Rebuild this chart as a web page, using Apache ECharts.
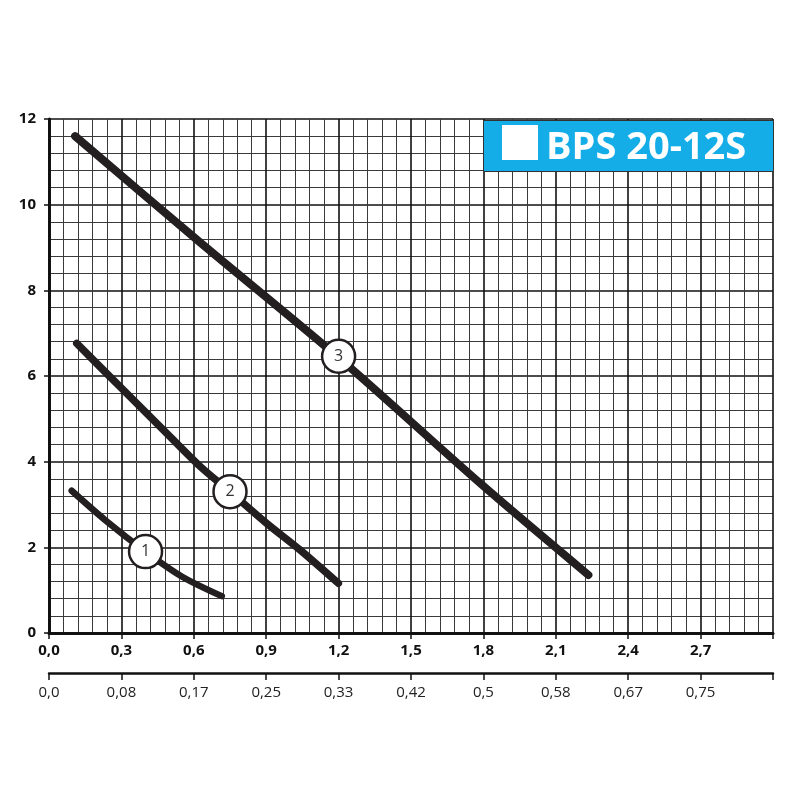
<!DOCTYPE html>
<html>
<head>
<meta charset="utf-8">
<script src="https://cdn.jsdelivr.net/npm/echarts@6/dist/echarts.min.js"></script>
<style>
html,body{margin:0;padding:0;background:#fff;}
#chart{width:800px;height:800px;}
</style>
</head>
<body>
<div id="chart"></div>
<script>
// Curve data (flow m³/h, head m)
const curve1X = [0.094, 0.232, 0.40, 0.55, 0.716];
const curve1Y = [3.32, 2.64, 1.90, 1.32, 0.86];
const curve2X = [0.115, 0.294, 0.46, 0.626, 0.75, 0.902, 1.04, 1.199];
const curve2Y = [6.76, 5.75, 4.82, 3.89, 3.30, 2.56, 1.94, 1.16];
const curve3X = [0.108, 0.626, 1.202, 1.80, 2.235];
const curve3Y = [11.6, 9.12, 6.42, 3.43, 1.355];
// Curve number labels
const labelNames = ['1', '2', '3'];
const labelX = [0.40, 0.75, 1.20];
const labelY = [1.90, 3.30, 6.46];
// Secondary axis tick labels (l/s)
const secondTicks = ['0,0', '0,08', '0,17', '0,25', '0,33', '0,42', '0,5', '0,58', '0,67', '0,75'];
const titleText = 'BPS 20-12S';

function zip(xs, ys) { return xs.map((x, i) => [x, ys[i]]); }

const chart = echarts.init(document.getElementById('chart'));
const font = '"Open Sans", "DejaVu Sans", sans-serif';
const curveColor = '#231f20';

function curveSeries(xs, ys, w) {
  return {
    type: 'line', xAxisIndex: 0, yAxisIndex: 0,
    data: zip(xs, ys), smooth: 0.3, symbol: 'none',
    lineStyle: { color: curveColor, width: w, cap: 'round', join: 'round' },
    z: 3, silent: true
  };
}

const option = {
  animation: false,
  grid: { left: 49, right: 27, top: 119, bottom: 167, containLabel: false },
  xAxis: [
    {
      type: 'value', min: 0, max: 3, interval: 0.3, position: 'bottom',
      axisLine: { show: true, onZero: false, lineStyle: { color: '#111', width: 3 } },
      axisTick: { show: true, length: 6, lineStyle: { color: '#111', width: 1.5 } },
      axisLabel: {
        margin: 10, color: '#111', fontFamily: font, fontWeight: 'bold', fontSize: 15,
        formatter: v => (Math.abs(v - 3) < 1e-6 ? '' : v.toFixed(1).replace('.', ','))
      },
      splitLine: { show: true, lineStyle: { color: '#111', width: 1.6 } },
      minorTick: { show: false, splitNumber: 5 },
      minorSplitLine: { show: true, lineStyle: { color: '#3a3a3a', width: 1 } }
    },
    {
      type: 'value', min: 0, max: 3, interval: 0.3, position: 'bottom', offset: 40,
      axisLine: { show: true, onZero: false, lineStyle: { color: '#111', width: 2.5 } },
      axisTick: { show: true, length: 7, lineStyle: { color: '#111', width: 1.5 } },
      axisLabel: {
        margin: 12, color: '#222', fontFamily: font, fontSize: 15,
        formatter: v => { const i = Math.round(v / 0.3); return secondTicks[i] || ''; }
      },
      splitLine: { show: false }
    }
  ],
  yAxis: {
    type: 'value', min: 0, max: 12, interval: 2,
    axisLine: { show: true, onZero: false, lineStyle: { color: '#111', width: 3 } },
    axisTick: { show: true, length: 5, lineStyle: { color: '#111', width: 1.5 } },
    axisLabel: { margin: 13, color: '#111', fontFamily: font, fontWeight: 'bold', fontSize: 15 },
    splitLine: { show: true, lineStyle: { color: '#111', width: 1.6 } },
    minorTick: { show: false, splitNumber: 5 },
    minorSplitLine: { show: true, lineStyle: { color: '#3a3a3a', width: 1 } }
  },
  series: [
    curveSeries(curve1X, curve1Y, 6.5),
    curveSeries(curve2X, curve2Y, 7.5),
    curveSeries(curve3X, curve3Y, 8),
    {
      type: 'scatter', xAxisIndex: 0, yAxisIndex: 0,
      data: labelNames.map((n, i) => ({ name: n, value: [labelX[i], labelY[i]] })),
      symbol: 'circle', symbolSize: 33,
      itemStyle: { color: '#fff', borderColor: curveColor, borderWidth: 2.5, opacity: 1 },
      label: { show: true, position: 'inside', formatter: p => p.name, color: '#333', fontFamily: font, fontSize: 16 },
      z: 5, silent: true
    }
  ],
  graphic: [
    { type: 'rect', left: 483, top: 120, shape: { width: 290, height: 51 },
      style: { fill: '#14ade8', stroke: '#333', lineWidth: 1 }, z: 100 },
    { type: 'rect', left: 502, top: 125, shape: { width: 36, height: 35 },
      style: { fill: '#fff' }, z: 101 },
    { type: 'text', left: 546, top: 129,
      style: { text: titleText, fill: '#fff', font: 'bold 38px "Open Sans", sans-serif' }, z: 101 }
  ]
};
chart.setOption(option);
</script>
</body>
</html>
